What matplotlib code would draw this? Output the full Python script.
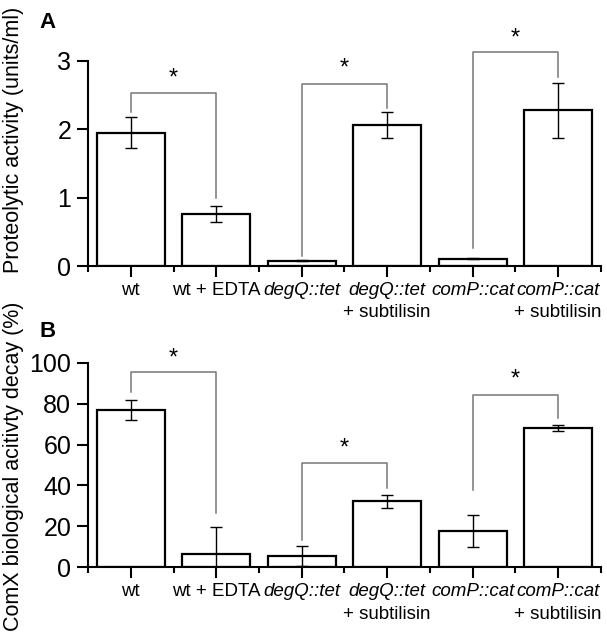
import matplotlib

matplotlib.use("Agg")
import matplotlib.pyplot as plt

plt.rcParams["font.family"] = ["Liberation Sans", "DejaVu Sans"]

# categories (first line, italic?, second line)
strains = ["wt", "wt + EDTA", "degQ::tet", "degQ::tet", "comP::cat", "comP::cat"]
strain_italic = [False, False, True, True, True, True]
treatment = ["", "", "", "+ subtilisin", "", "+ subtilisin"]

# panel A: proteolytic activity (units/ml)
activity = [1.95, 0.76, 0.08, 2.06, 0.11, 2.28]
activity_err = [0.23, 0.12, 0.01, 0.19, 0.01, 0.40]

# panel B: ComX biological activity decay (%)
decay = [76.9, 6.3, 5.5, 32.2, 17.7, 68.2]
decay_err = [5.1, 13.2, 4.8, 3.2, 8.0, 1.5]

# significance brackets: (left bar, right bar, top, left leg end, right leg end, star y)
brackets_a = [(0, 1, 2.53, 2.25, 0.99, 2.84),
              (2, 3, 2.67, 0.14, 2.31, 2.99),
              (4, 5, 3.13, 0.26, 2.77, 3.43)]
brackets_b = [(0, 1, 95.3, 85.8, 26.4, 105.4),
              (2, 3, 50.8, 13.3, 38.6, 61.4),
              (4, 5, 84.2, 37.8, 72.8, 94.8)]


def draw_panel(ax, values, errors, brackets, ylim, yticks):
    x = list(range(len(values)))
    ax.bar(x, values, width=0.8, color="white", edgecolor="black", linewidth=1.6, zorder=2)
    ax.errorbar(x, values, yerr=errors, fmt="none", ecolor="black", elinewidth=1.0,
                capsize=4, capthick=1.0, zorder=3)
    for i, j, top, lo_i, lo_j, star in brackets:
        ax.plot([i, i, j, j], [lo_i, top, top, lo_j], color="#777777", lw=1.1,
                clip_on=False, zorder=1)
        ax.annotate("*", xy=((i + j) / 2, star), xytext=(0, -9), textcoords="offset points",
                    ha="center", va="baseline", fontsize=17, annotation_clip=False)

    ax.set_xlim(-0.5, 5.5)
    ax.set_ylim(*ylim)
    ax.set_yticks(yticks)
    ax.spines["top"].set_visible(False)
    ax.spines["right"].set_visible(False)
    for s in ("left", "bottom"):
        ax.spines[s].set_linewidth(1.5)
    ax.tick_params(axis="y", direction="out", length=8, width=1.5, pad=4, labelsize=18)
    ax.set_xticks(x)
    ax.set_xticks([k - 0.5 for k in range(len(values) + 1)], minor=True)
    ax.set_xticklabels([])
    ax.tick_params(axis="x", which="major", direction="out", length=8, width=1.5)
    ax.tick_params(axis="x", which="minor", direction="out", length=4, width=1.5)

    for k, (name, it, extra) in enumerate(zip(strains, strain_italic, treatment)):
        ax.annotate(name, xy=(k, 0), xycoords=("data", "axes fraction"), xytext=(0, -11.5),
                    textcoords="offset points", ha="center", va="top", fontsize=13.5,
                    fontstyle="italic" if it else "normal")
        if extra:
            ax.annotate(extra, xy=(k, 0), xycoords=("data", "axes fraction"),
                        xytext=(0, -27.5), textcoords="offset points", ha="center",
                        va="top", fontsize=13.5)


fig = plt.figure(figsize=(6.07, 6.35), dpi=100)
ax_a = fig.add_axes([0.145, 0.581, 0.845, 0.323])
ax_b = fig.add_axes([0.145, 0.1066, 0.845, 0.3222])

draw_panel(ax_a, activity, activity_err, brackets_a, (0, 3), [0, 1, 2, 3])
draw_panel(ax_b, decay, decay_err, brackets_b, (0, 100), [0, 20, 40, 60, 80, 100])

fig.text(0.079, 0.965, "A", fontsize=16, fontweight="bold", ha="center", va="center")
fig.text(0.079, 0.478, "B", fontsize=16, fontweight="bold", ha="center", va="center")
fig.text(0.022, 0.78, "Proteolytic activity (units/ml)", rotation=90, fontsize=15.5,
         ha="center", va="center")
fig.text(0.022, 0.265, "ComX biological acitivty decay (%)", rotation=90, fontsize=15.5,
         ha="center", va="center")

fig.savefig("out.png", dpi=100)
